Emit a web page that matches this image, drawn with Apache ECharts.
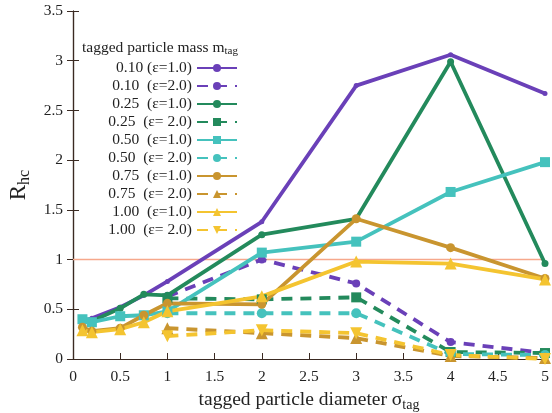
<!DOCTYPE html>
<html><head><meta charset="utf-8">
<script src="https://cdn.jsdelivr.net/npm/echarts@6/dist/echarts.min.js"></script>
<style>html,body{margin:0;padding:0;background:#fff}#c{width:552px;height:413px}</style>
</head><body><div id="c"></div>
<script>
const xSolid = [0.1, 0.2, 0.5, 0.75, 1, 2, 3, 4, 5];
const xDashed = [1, 2, 3, 4, 5];
const m010e1 = [0.38, 0.41, 0.52, 0.64, 0.78, 1.38, 2.75, 3.06, 2.67];
const m010e2 = [0.63, 1.00, 0.76, 0.17, 0.06];
const m025e1 = [0.40, 0.38, 0.51, 0.65, 0.64, 1.25, 1.41, 2.99, 0.96];
const m025e2 = [0.61, 0.60, 0.62, 0.07, 0.06];
const m050e1 = [0.40, 0.37, 0.43, 0.44, 0.48, 1.07, 1.18, 1.68, 1.98];
const m050e2 = [0.46, 0.46, 0.46, 0.05, 0.04];
const m075e1 = [0.32, 0.28, 0.31, 0.44, 0.56, 0.55, 1.41, 1.12, 0.81];
const m075e2 = [0.31, 0.26, 0.21, 0.03, 0.01];
const m100e1 = [0.29, 0.27, 0.30, 0.37, 0.48, 0.63, 0.98, 0.96, 0.80];
const m100e2 = [0.23, 0.29, 0.26, 0.04, 0.00];
const names = ['0.10 (ε=1.0)', '0.10  (ε=2.0)', '0.25  (ε=1.0)', '0.25  (ε= 2.0)', '0.50  (ε=1.0)',
  '0.50  (ε= 2.0)', '0.75  (ε=1.0)', '0.75  (ε= 2.0)', '1.00  (ε=1.0)', '1.00  (ε= 2.0)'];
const refValue = 1;

const C = {p:'#6a40b8', g:'#238a5c', t:'#45c2bd', o:'#c9952f', y:'#f4c430'};
const FONT = 'Liberation Serif';
function pairs(xs, ys){ return xs.map((x,i)=>[x, ys[i]]); }
function mk(name, xs, ys, color, dashed, symbol, size, rot){
  return {
    name, type:'line', data: pairs(xs, ys), color,
    symbol, symbolSize: size, symbolRotate: rot || 0, showSymbol:true,
    lineStyle:{color, width:3.8, type: dashed ? [11,8] : 'solid'},
    itemStyle:{color},
    z: 3
  };
}
const series = [
  mk(names[0], xSolid, m010e1, C.p, false, 'circle', 5),
  mk(names[1], xDashed, m010e2, C.p, true, 'circle', 8),
  mk(names[2], xSolid, m025e1, C.g, false, 'circle', 7),
  mk(names[3], xDashed, m025e2, C.g, true, 'rect', 10),
  mk(names[4], xSolid, m050e1, C.t, false, 'rect', 10),
  mk(names[5], xDashed, m050e2, C.t, true, 'circle', 10),
  mk(names[6], xSolid, m075e1, C.o, false, 'circle', 9),
  mk(names[7], xDashed, m075e2, C.o, true, 'triangle', 12),
  mk(names[8], xSolid, m100e1, C.y, false, 'triangle', 12),
  mk(names[9], xDashed, m100e2, C.y, true, 'triangle', 12, 180)
];
series.push({
  name:'ref', type:'line', data: pairs([0,5],[refValue, refValue]), symbol:'none',
  lineStyle:{color:'#f6a88c', width:1.5}, z:1, silent:true
});

const chart = echarts.init(document.getElementById('c'));
chart.setOption({
  animation:false,
  backgroundColor:'#fff',
  textStyle:{fontFamily:FONT},
  grid:{left:73, right:7, top:11, bottom:54, containLabel:false, outerBoundsMode:'none'},
  title:{
    text:'tagged particle mass m{s|tag}', left:77, top:33,
    textStyle:{fontFamily:FONT, fontSize:15.5, fontWeight:'normal', color:'#222',
      rich:{s:{fontFamily:FONT, fontSize:11, color:'#222', verticalAlign:'bottom', padding:[8,0,0,0]}}}
  },
  legend:{
    data:names, orient:'vertical', left:95, top:55, align:'right',
    itemWidth:40, itemHeight:10, itemGap:2,
    textStyle:{fontFamily:FONT, fontSize:15.5, lineHeight:14, color:'#222', width:92, align:'right'}
  },
  xAxis:[{
    type:'value', min:0, max:5, interval:0.5,
    name:'tagged particle diameter σ{s|tag}', nameLocation:'middle', nameGap:29,
    nameTextStyle:{fontFamily:FONT, fontSize:19.5, color:'#222',
      rich:{s:{fontFamily:FONT, fontSize:14, color:'#222', verticalAlign:'bottom', padding:[10,0,0,0]}}},
    axisLine:{show:true, lineStyle:{color:'#3a2a22', width:1.2}},
    axisTick:{inside:true, length:6, lineStyle:{color:'#3a2a22'}},
    axisLabel:{fontFamily:FONT, fontSize:15.5, color:'#222', margin:10},
    splitLine:{show:false}
  },{
    type:'value', min:0, max:5, interval:0.5, position:'top',
    axisLine:{show:true, lineStyle:{color:'#3a2a22', width:1.2}},
    axisTick:{show:false}, axisLabel:{show:false}, splitLine:{show:false}
  }],
  yAxis:[{
    type:'value', min:0, max:3.5, interval:0.5,
    name:'R{s|hc}', nameLocation:'middle', nameGap:33, nameRotate:90,
    nameTextStyle:{fontFamily:FONT, fontSize:23, color:'#222',
      rich:{s:{fontFamily:FONT, fontSize:16, color:'#222', verticalAlign:'bottom', padding:[12,0,0,0]}}},
    axisLine:{show:true, lineStyle:{color:'#3a2a22', width:1.2}},
    axisTick:{inside:true, length:6, lineStyle:{color:'#3a2a22'}},
    axisLabel:{fontFamily:FONT, fontSize:15.5, color:'#222', margin:10},
    splitLine:{show:false}
  },{
    type:'value', min:0, max:3.5, interval:0.5, position:'right',
    axisLine:{show:true, lineStyle:{color:'#3a2a22', width:1.2}},
    axisTick:{inside:true, length:6, lineStyle:{color:'#3a2a22'}},
    axisLabel:{show:false}, splitLine:{show:false}
  }],
  series
});
</script></body></html>
